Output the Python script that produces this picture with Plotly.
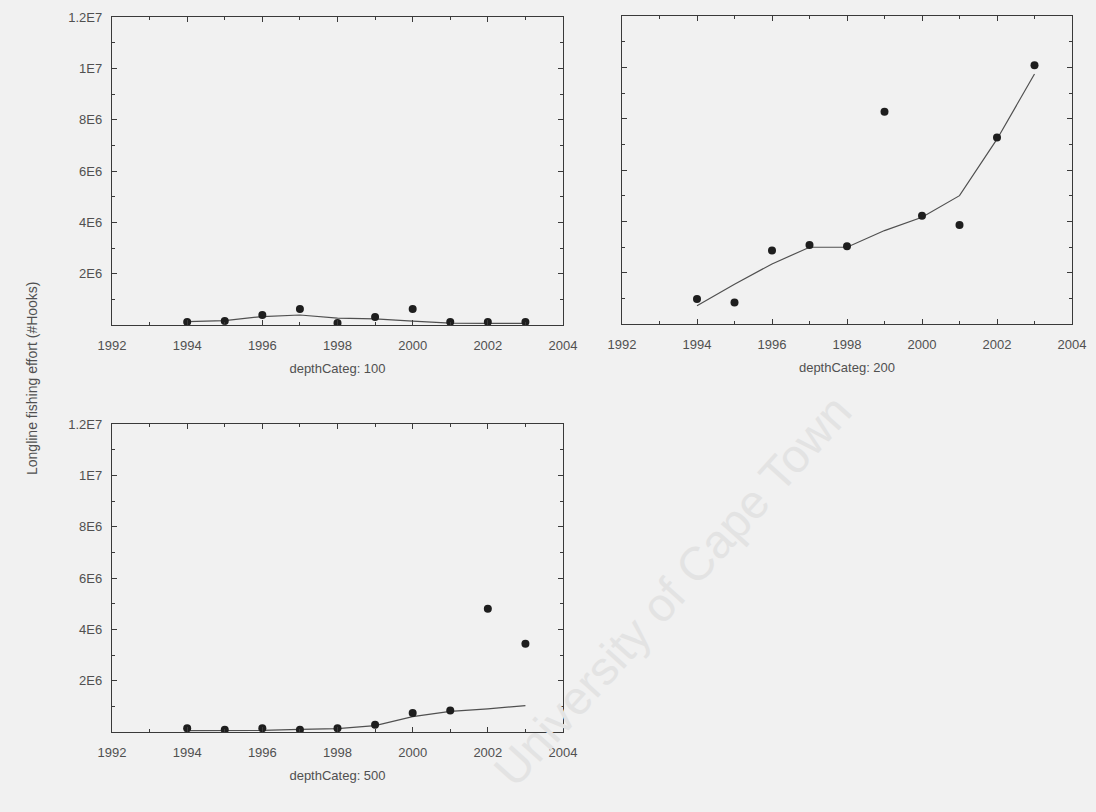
import plotly.graph_objects as go

years = [1994, 1995, 1996, 1997, 1998, 1999, 2000, 2001, 2002, 2003]

# depthCateg: 100
pts_100 = [0.12e6, 0.16e6, 0.39e6, 0.62e6, 0.08e6, 0.31e6, 0.62e6, 0.12e6, 0.12e6, 0.12e6]
fit_100 = [0.13e6, 0.17e6, 0.33e6, 0.39e6, 0.27e6, 0.24e6, 0.15e6, 0.07e6, 0.06e6, 0.06e6]

# depthCateg: 200
pts_200 = [0.97e6, 0.84e6, 2.86e6, 3.08e6, 3.03e6, 8.27e6, 4.22e6, 3.86e6, 7.27e6, 10.08e6]
fit_200 = [0.71e6, 1.55e6, 2.34e6, 2.99e6, 2.99e6, 3.64e6, 4.16e6, 5.0e6, 7.2e6, 9.74e6]

# depthCateg: 500
pts_500 = [0.15e6, 0.09e6, 0.15e6, 0.09e6, 0.15e6, 0.28e6, 0.74e6, 0.84e6, 4.8e6, 3.44e6]
fit_500 = [0.05e6, 0.05e6, 0.06e6, 0.1e6, 0.13e6, 0.25e6, 0.6e6, 0.8e6, 0.9e6, 1.03e6]

panel_titles = ["depthCateg: 100", "depthCateg: 200", "depthCateg: 500"]
x_ticks = [1992, 1994, 1996, 1998, 2000, 2002, 2004]
y_tickvals = [2e6, 4e6, 6e6, 8e6, 10e6, 12e6]
y_ticktext = ["2E6", "4E6", "6E6", "8E6", "1E7", "1.2E7"]
y_title = "Longline fishing effort (#Hooks)"

W, H = 1096, 812
def px_x(v):
    return v / W
def px_y(v):
    return 1 - v / H

boxes = [
    (112, 563, 17, 325),
    (622, 1072, 16, 324),
    (112, 563, 424, 732),
]

fig = go.Figure()
series = [(pts_100, fit_100), (pts_200, fit_200), (pts_500, fit_500)]
TXT = "#505050"
AX = "#3a3a3a"
FONT = "Liberation Sans, Arial, sans-serif"

# faint scan watermark, drawn first so that it sits behind the chart text
fig.add_annotation(text="University of Cape Town", xref="paper", yref="paper",
                   x=px_x(672), y=px_y(590), xanchor="center", yanchor="middle",
                   textangle=-48, showarrow=False,
                   font=dict(family=FONT, size=47, color="#e3e3e3"))

for i, ((pts, fit), box) in enumerate(zip(series, boxes)):
    suf = "" if i == 0 else str(i + 1)
    xa, ya = "x" + suf, "y" + suf
    fig.add_trace(go.Scatter(x=years, y=fit, mode="lines", xaxis=xa, yaxis=ya,
                             line=dict(color="#505050", width=1.2), showlegend=False))
    fig.add_trace(go.Scatter(x=years, y=pts, mode="markers", xaxis=xa, yaxis=ya,
                             marker=dict(color="#1e1e1e", size=8), showlegend=False))
    x0, x1, y0, y1 = box
    xaxis = dict(domain=[px_x(x0), px_x(x1)], range=[1992, 2004], anchor=ya,
                 automargin=False,
                 tickvals=x_ticks, ticks="inside", ticklen=5, tickcolor=AX,
                 showline=True, linecolor=AX, linewidth=1.3, mirror="ticks",
                 showgrid=False, zeroline=False, ticklabelstandoff=8,
                 minor=dict(dtick=1, ticks="inside", ticklen=3, tickcolor=AX),
                 tickfont=dict(family=FONT, size=13, color=TXT),
                 title=dict(text=panel_titles[i], font=dict(family=FONT, size=13, color=TXT), standoff=12))
    yaxis = dict(domain=[px_y(y1), px_y(y0)], range=[0, 1.2e7], anchor=xa,
                 automargin=False,
                 tickvals=y_tickvals, ticktext=y_ticktext, ticks="inside", ticklen=5,
                 tickcolor=AX, showline=True, linecolor=AX, linewidth=1.3, mirror="ticks",
                 showgrid=False, zeroline=False, ticklabelstandoff=6,
                 minor=dict(dtick=1e6, ticks="inside", ticklen=3, tickcolor=AX),
                 showticklabels=(i != 1),
                 tickfont=dict(family=FONT, size=13, color=TXT))
    fig.layout["xaxis" + suf] = xaxis
    fig.layout["yaxis" + suf] = yaxis

fig.add_annotation(text=y_title, xref="paper", yref="paper", x=px_x(22), y=px_y(378),
                   textangle=-90, showarrow=False,
                   font=dict(family=FONT, size=14, color=TXT))

fig.update_layout(width=W, height=H, margin=dict(l=0, r=0, t=0, b=0),
                  paper_bgcolor="#f1f1f1", plot_bgcolor="rgba(0,0,0,0)")
fig.write_html("out.html")
